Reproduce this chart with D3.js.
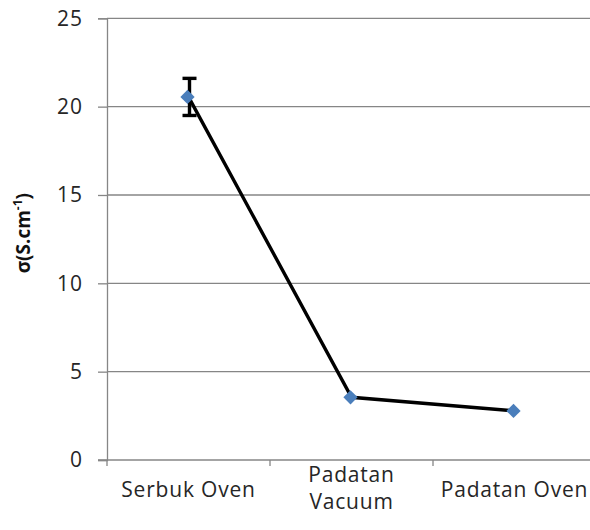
<!DOCTYPE html>
<html>
<head>
<meta charset="utf-8">
<style>
  body { margin: 0; background: #fff; }
  svg { display: block; }
</style>
</head>
<body>
<div id="chart"></div>
<script src="https://d3js.org/d3.v7.min.js"></script>
<script>
// data
const categories = ["Serbuk Oven", "Padatan Vacuum", "Padatan Oven"];
const values = [20.55, 3.55, 2.78];
const errors = [1.05, 0, 0];
const yTicks = [0, 5, 10, 15, 20, 25];

const W = 590, H = 530;
const mLeft = 107, mRight = 596, mTop = 18.3, mBottom = 460;
const font = '"Open Sans", sans-serif';

const svg = d3.select('#chart').append('svg')
  .attr('width', W).attr('height', H);

const x = d3.scaleBand().domain(categories).range([mLeft, mRight]);
const y = d3.scaleLinear().domain([0, 25]).range([mBottom, mTop]);

// horizontal grid
svg.append('g')
  .selectAll('line')
  .data(yTicks.filter(d => d > 0))
  .enter().append('line')
  .attr('x1', mLeft).attr('x2', W)
  .attr('y1', d => y(d)).attr('y2', d => y(d))
  .style('stroke', '#868686').style('stroke-width', 1.3);

// y axis
const yAxis = svg.append('g')
  .attr('transform', `translate(${mLeft},0)`)
  .call(d3.axisLeft(y).tickValues(yTicks).tickSize(9).tickPadding(15));
yAxis.select('.domain').style('stroke', '#868686').style('stroke-width', 1.3);
yAxis.selectAll('.tick line').style('stroke', '#868686').style('stroke-width', 1.3);
yAxis.selectAll('.tick text')
  .style('font-family', font).style('font-size', '21px')
  .style('letter-spacing', '1px').style('fill', '#262626');

// x axis
const xAxis = svg.append('g')
  .attr('transform', `translate(0,${mBottom})`)
  .call(d3.axisBottom(x).tickSize(0).tickPadding(22));
xAxis.select('.domain').remove();
xAxis.append('line')
  .attr('x1', mLeft - 9).attr('x2', W)
  .style('stroke', '#868686').style('stroke-width', 1.3);
xAxis.selectAll('.xt')
  .data(categories.concat(['end']))
  .enter().append('line')
  .attr('x1', (d, i) => mLeft + i * x.bandwidth())
  .attr('x2', (d, i) => mLeft + i * x.bandwidth())
  .attr('y1', 0).attr('y2', 6)
  .style('stroke', '#868686').style('stroke-width', 1.3);
xAxis.selectAll('.tick text')
  .style('font-family', font).style('font-size', '21px')
  .style('letter-spacing', '0.8px').style('fill', '#262626');

// wrap long labels like the original
xAxis.selectAll('.tick text').each(function(d) {
  const t = d3.select(this);
  if (d === 'Padatan Vacuum') {
    t.text(null);
    t.append('tspan').attr('x', 0).attr('dy', 0).text('Padatan');
    t.append('tspan').attr('x', 0).attr('dy', '1.28em').text('Vacuum');
  }
});

// y title
svg.append('text')
  .attr('transform', `translate(30,${(mTop + mBottom) / 2 - 6}) rotate(-90)`)
  .attr('text-anchor', 'middle')
  .style('font-family', font)
  .style('font-size', '19px').style('font-weight', 'bold').style('fill', '#111')
  .html('σ(S.cm<tspan baseline-shift="super" font-size="12px">-1</tspan>)');

const cx = d => x(d) + x.bandwidth() / 2;
const pts = categories.map((c, i) => ({ c, v: values[i], e: errors[i] }));

// line
svg.append('path')
  .datum(pts)
  .attr('d', d3.line().x(d => cx(d.c)).y(d => y(d.v)))
  .style('fill', 'none').style('stroke', '#000').style('stroke-width', 3.4);

// error bars
const eb = svg.append('g').selectAll('g')
  .data(pts.filter(d => d.e > 0))
  .enter().append('g')
  .style('stroke', '#000').style('stroke-width', 3.4);
eb.append('line')
  .attr('x1', d => cx(d.c) + 1).attr('x2', d => cx(d.c) + 1)
  .attr('y1', d => y(d.v + d.e)).attr('y2', d => y(d.v - d.e));
eb.append('line')
  .attr('x1', d => cx(d.c) - 6).attr('x2', d => cx(d.c) + 8)
  .attr('y1', d => y(d.v + d.e)).attr('y2', d => y(d.v + d.e));
eb.append('line')
  .attr('x1', d => cx(d.c) - 6).attr('x2', d => cx(d.c) + 8)
  .attr('y1', d => y(d.v - d.e)).attr('y2', d => y(d.v - d.e));

// markers
svg.append('g').selectAll('path')
  .data(pts)
  .enter().append('path')
  .attr('transform', d => `translate(${cx(d.c) - 1},${y(d.v)})`)
  .attr('d', d3.symbol().type(d3.symbolDiamond2).size(130))
  .style('fill', '#4a7ebb');
</script>
</body>
</html>
